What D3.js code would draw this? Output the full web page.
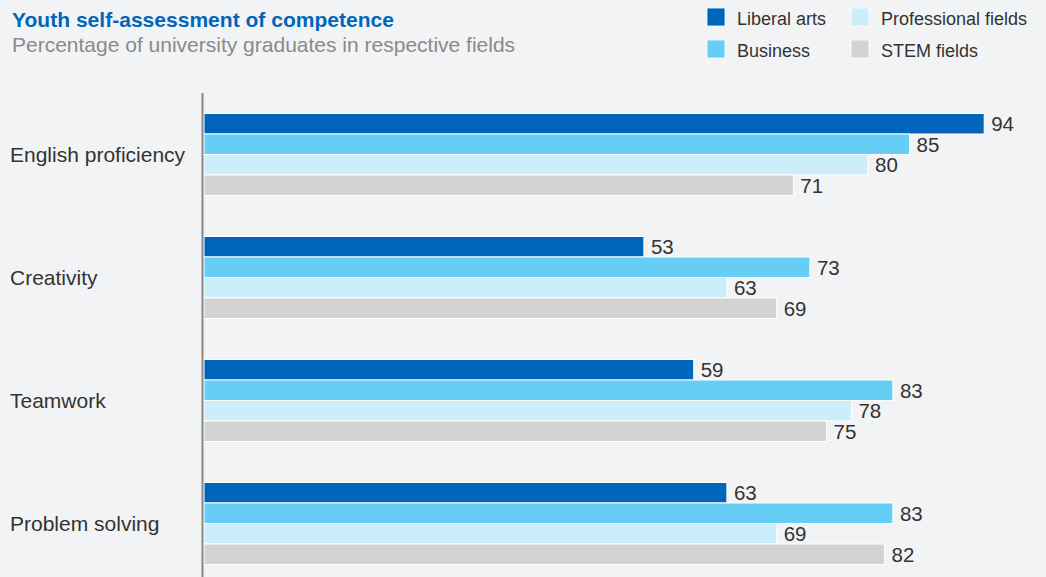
<!DOCTYPE html>
<html>
<head>
<meta charset="utf-8">
<script src="https://cdn.jsdelivr.net/npm/d3@7"></script>
<style>
  html, body { margin: 0; padding: 0; background: #f2f3f5; }
  svg { display: block; font-family: "Liberation Sans", Arial, Helvetica, sans-serif; }
</style>
</head>
<body>
<script>
const width = 1046;
const height = 577;

const categories = ["English proficiency", "Creativity", "Teamwork", "Problem solving"];
const seriesNames = ["Liberal arts", "Business", "Professional fields", "STEM fields"];
const liberalArts = [94, 53, 59, 63];
const business = [85, 73, 83, 83];
const professional = [80, 63, 78, 69];
const stem = [71, 69, 75, 82];
const colors = ["#0066bb", "#66cdf4", "#ccedfa", "#d3d3d3"];

const values = [liberalArts, business, professional, stem];
const rows = categories.map((c, i) => ({
    category: c,
    bars: seriesNames.map((s, j) => ({ series: s, value: values[j][i] }))
}));

const svg = d3.select(document.body).append("svg")
    .attr("width", width)
    .attr("height", height);

const x = d3.scaleLinear().domain([0, 100]).range([204, 1034]);
const y = d3.scaleBand().domain(categories).range([93, 585])
    .paddingInner(1 / 3).paddingOuter(1 / 6);
const ySub = d3.scaleBand().domain(seriesNames).range([0, y.bandwidth()]);
const color = d3.scaleOrdinal().domain(seriesNames).range(colors);

// title
svg.append("text")
    .attr("x", 12).attr("y", 27)
    .attr("fill", "#0066bb")
    .attr("font-size", 21)
    .attr("font-weight", "bold")
    .attr("textLength", 382)
    .text("Youth self-assessment of competence");
svg.append("text")
    .attr("x", 12).attr("y", 52)
    .attr("fill", "#8a8a8a")
    .attr("font-size", 21)
    .text("Percentage of university graduates in respective fields");

// legend
const legend = svg.append("g")
    .selectAll("g")
    .data(seriesNames)
    .join("g")
    .attr("transform", (d, i) => `translate(${i < 2 ? 707 : 851},${i % 2 === 0 ? 8 : 40})`);
legend.append("rect")
    .attr("width", 18).attr("height", 18)
    .attr("fill", d => color(d))
    .attr("stroke", "#fff")
    .attr("stroke-width", 0.8);
legend.append("text")
    .attr("x", 30).attr("y", 16.5)
    .attr("fill", "#333")
    .attr("font-size", 18)
    .text(d => d);

// bars
const group = svg.append("g")
    .selectAll("g")
    .data(rows)
    .join("g")
    .attr("transform", d => `translate(0,${y(d.category)})`);

group.selectAll("rect")
    .data(d => d.bars)
    .join("rect")
    .attr("x", x(0))
    .attr("y", d => ySub(d.series))
    .attr("width", d => x(d.value) - x(0))
    .attr("height", ySub.bandwidth())
    .attr("fill", d => color(d.series))
    .attr("stroke", "#fff")
    .attr("stroke-width", 1);

group.selectAll("text.value")
    .data(d => d.bars)
    .join("text")
    .attr("class", "value")
    .attr("x", d => x(d.value) + 7)
    .attr("y", d => ySub(d.series) + ySub.bandwidth() / 2)
    .attr("dy", "0.36em")
    .attr("fill", "#333")
    .attr("font-size", 20.5)
    .text(d => d.value);

// category labels
group.append("text")
    .attr("x", 10)
    .attr("y", y.bandwidth() / 2)
    .attr("dy", "0.36em")
    .attr("fill", "#333")
    .attr("font-size", 21)
    .text(d => d.category);

// axis line
svg.append("line")
    .attr("x1", 202.5).attr("x2", 202.5)
    .attr("y1", 93).attr("y2", height)
    .attr("stroke", "#888")
    .attr("stroke-width", 2);
</script>
</body>
</html>
